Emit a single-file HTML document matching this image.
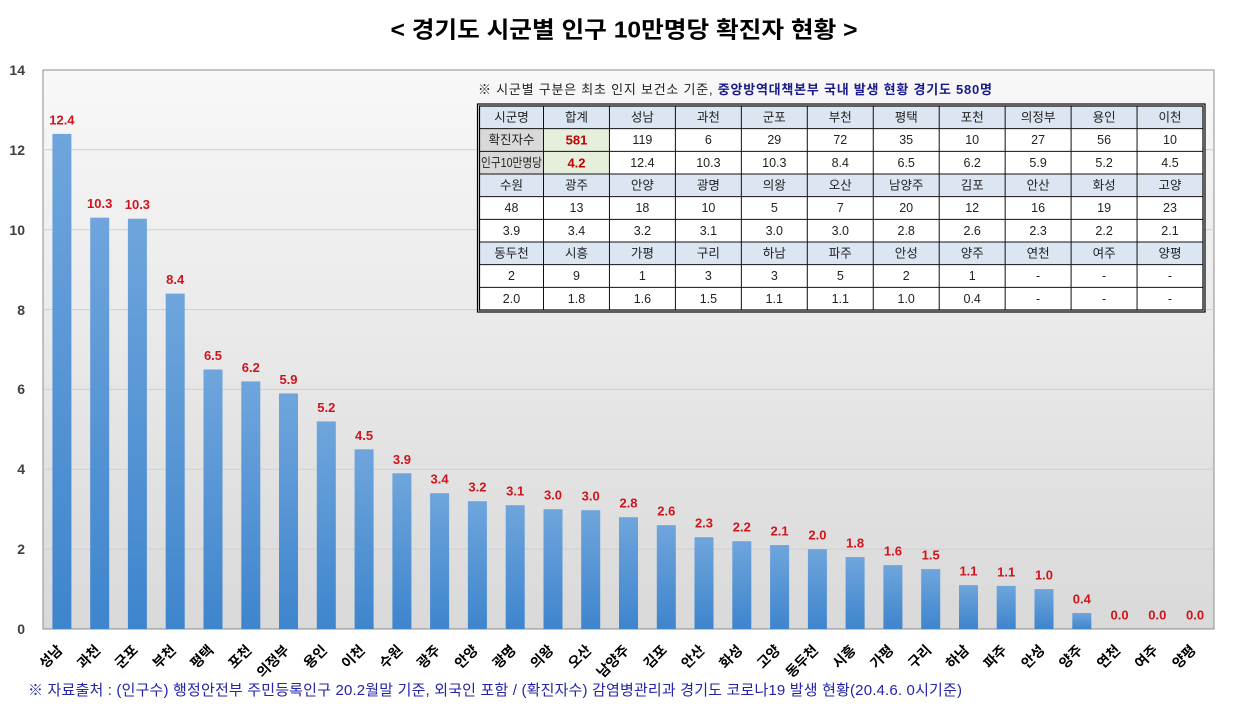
<!DOCTYPE html>
<html><head><meta charset="utf-8"><style>
html,body{margin:0;padding:0;background:#fff;}
svg{display:block;}
text{font-family:"Liberation Sans","Noto Sans CJK KR",sans-serif;}
.yl{font-size:14px;font-weight:bold;fill:#404040;text-anchor:end;}
.dl{font-size:13px;font-weight:bold;fill:#d0141c;text-anchor:middle;}
.xl{font-size:14px;font-weight:bold;fill:#000;text-anchor:end;}
.tc{font-size:12.5px;fill:#222;text-anchor:middle;}
.tr{font-size:13px;font-weight:bold;fill:#c00000;text-anchor:middle;}
</style></head><body>
<svg width="1249" height="712" viewBox="0 0 1249 712" xmlns="http://www.w3.org/2000/svg">
<defs>
<linearGradient id="bg" x1="0" y1="0" x2="0" y2="1">
<stop offset="0" stop-color="#f8f8f8"/><stop offset="1" stop-color="#d9d9d9"/>
</linearGradient>
<linearGradient id="bar" x1="0" y1="0" x2="0" y2="1">
<stop offset="0" stop-color="#6fa5dc"/><stop offset="1" stop-color="#3e85cd"/>
</linearGradient>
</defs>
<rect width="1249" height="712" fill="#fff"/>
<text x="624" y="37.5" text-anchor="middle" font-size="23" font-weight="bold" fill="#000" textLength="467" lengthAdjust="spacingAndGlyphs">&lt; 경기도 시군별 인구 10만명당 확진자 현황 &gt;</text>
<rect x="43" y="70" width="1171" height="559" fill="url(#bg)" stroke="#8c8c8c" stroke-width="1"/>
<g stroke="#cfcfcf" stroke-width="1">
<line x1="43" x2="1214" y1="549.1" y2="549.1"/>
<line x1="43" x2="1214" y1="469.3" y2="469.3"/>
<line x1="43" x2="1214" y1="389.4" y2="389.4"/>
<line x1="43" x2="1214" y1="309.6" y2="309.6"/>
<line x1="43" x2="1214" y1="229.7" y2="229.7"/>
<line x1="43" x2="1214" y1="149.8" y2="149.8"/>
</g>
<g>
<text class="yl" x="25" y="75">14</text>
<text class="yl" x="25" y="155">12</text>
<text class="yl" x="25" y="235">10</text>
<text class="yl" x="25" y="315">8</text>
<text class="yl" x="25" y="394">6</text>
<text class="yl" x="25" y="474">4</text>
<text class="yl" x="25" y="554">2</text>
<text class="yl" x="25" y="634">0</text>
</g>
<g fill="url(#bar)">
<rect x="52.4" y="133.9" width="19" height="495.1"/>
<rect x="90.2" y="217.7" width="19" height="411.3"/>
<rect x="127.9" y="218.7" width="19" height="410.3"/>
<rect x="165.7" y="293.6" width="19" height="335.4"/>
<rect x="203.5" y="369.5" width="19" height="259.5"/>
<rect x="241.3" y="381.4" width="19" height="247.6"/>
<rect x="279.0" y="393.4" width="19" height="235.6"/>
<rect x="316.8" y="421.4" width="19" height="207.6"/>
<rect x="354.6" y="449.3" width="19" height="179.7"/>
<rect x="392.4" y="473.3" width="19" height="155.7"/>
<rect x="430.1" y="493.2" width="19" height="135.8"/>
<rect x="467.9" y="501.2" width="19" height="127.8"/>
<rect x="505.7" y="505.2" width="19" height="123.8"/>
<rect x="543.5" y="509.2" width="19" height="119.8"/>
<rect x="581.2" y="510.2" width="19" height="118.8"/>
<rect x="619.0" y="517.2" width="19" height="111.8"/>
<rect x="656.8" y="525.2" width="19" height="103.8"/>
<rect x="694.5" y="537.2" width="19" height="91.8"/>
<rect x="732.3" y="541.2" width="19" height="87.8"/>
<rect x="770.1" y="545.1" width="19" height="83.9"/>
<rect x="807.9" y="549.1" width="19" height="79.9"/>
<rect x="845.6" y="557.1" width="19" height="71.9"/>
<rect x="883.4" y="565.1" width="19" height="63.9"/>
<rect x="921.2" y="569.1" width="19" height="59.9"/>
<rect x="959.0" y="585.1" width="19" height="43.9"/>
<rect x="996.7" y="585.9" width="19" height="43.1"/>
<rect x="1034.5" y="589.1" width="19" height="39.9"/>
<rect x="1072.3" y="613.0" width="19" height="16.0"/>
</g>
<g>
<text class="dl" x="61.9" y="124.4">12.4</text>
<text class="dl" x="99.7" y="208.2">10.3</text>
<text class="dl" x="137.4" y="209.2">10.3</text>
<text class="dl" x="175.2" y="284.1">8.4</text>
<text class="dl" x="213.0" y="360.0">6.5</text>
<text class="dl" x="250.8" y="371.9">6.2</text>
<text class="dl" x="288.5" y="383.9">5.9</text>
<text class="dl" x="326.3" y="411.9">5.2</text>
<text class="dl" x="364.1" y="439.8">4.5</text>
<text class="dl" x="401.9" y="463.8">3.9</text>
<text class="dl" x="439.6" y="483.7">3.4</text>
<text class="dl" x="477.4" y="491.7">3.2</text>
<text class="dl" x="515.2" y="495.7">3.1</text>
<text class="dl" x="553.0" y="499.7">3.0</text>
<text class="dl" x="590.7" y="500.7">3.0</text>
<text class="dl" x="628.5" y="507.7">2.8</text>
<text class="dl" x="666.3" y="515.7">2.6</text>
<text class="dl" x="704.0" y="527.7">2.3</text>
<text class="dl" x="741.8" y="531.7">2.2</text>
<text class="dl" x="779.6" y="535.6">2.1</text>
<text class="dl" x="817.4" y="539.6">2.0</text>
<text class="dl" x="855.1" y="547.6">1.8</text>
<text class="dl" x="892.9" y="555.6">1.6</text>
<text class="dl" x="930.7" y="559.6">1.5</text>
<text class="dl" x="968.5" y="575.6">1.1</text>
<text class="dl" x="1006.2" y="576.4">1.1</text>
<text class="dl" x="1044.0" y="579.6">1.0</text>
<text class="dl" x="1081.8" y="603.5">0.4</text>
<text class="dl" x="1119.6" y="619.5">0.0</text>
<text class="dl" x="1157.3" y="619.5">0.0</text>
<text class="dl" x="1195.1" y="619.5">0.0</text>
</g>
<g>
<text class="xl" transform="translate(63.4,651) rotate(-45)">성남</text>
<text class="xl" transform="translate(101.2,651) rotate(-45)">과천</text>
<text class="xl" transform="translate(138.9,651) rotate(-45)">군포</text>
<text class="xl" transform="translate(176.7,651) rotate(-45)">부천</text>
<text class="xl" transform="translate(214.5,651) rotate(-45)">평택</text>
<text class="xl" transform="translate(252.3,651) rotate(-45)">포천</text>
<text class="xl" transform="translate(290.0,651) rotate(-45)">의정부</text>
<text class="xl" transform="translate(327.8,651) rotate(-45)">용인</text>
<text class="xl" transform="translate(365.6,651) rotate(-45)">이천</text>
<text class="xl" transform="translate(403.4,651) rotate(-45)">수원</text>
<text class="xl" transform="translate(441.1,651) rotate(-45)">광주</text>
<text class="xl" transform="translate(478.9,651) rotate(-45)">안양</text>
<text class="xl" transform="translate(516.7,651) rotate(-45)">광명</text>
<text class="xl" transform="translate(554.5,651) rotate(-45)">의왕</text>
<text class="xl" transform="translate(592.2,651) rotate(-45)">오산</text>
<text class="xl" transform="translate(630.0,651) rotate(-45)">남양주</text>
<text class="xl" transform="translate(667.8,651) rotate(-45)">김포</text>
<text class="xl" transform="translate(705.5,651) rotate(-45)">안산</text>
<text class="xl" transform="translate(743.3,651) rotate(-45)">화성</text>
<text class="xl" transform="translate(781.1,651) rotate(-45)">고양</text>
<text class="xl" transform="translate(818.9,651) rotate(-45)">동두천</text>
<text class="xl" transform="translate(856.6,651) rotate(-45)">시흥</text>
<text class="xl" transform="translate(894.4,651) rotate(-45)">가평</text>
<text class="xl" transform="translate(932.2,651) rotate(-45)">구리</text>
<text class="xl" transform="translate(970.0,651) rotate(-45)">하남</text>
<text class="xl" transform="translate(1007.7,651) rotate(-45)">파주</text>
<text class="xl" transform="translate(1045.5,651) rotate(-45)">안성</text>
<text class="xl" transform="translate(1083.3,651) rotate(-45)">양주</text>
<text class="xl" transform="translate(1121.1,651) rotate(-45)">연천</text>
<text class="xl" transform="translate(1158.8,651) rotate(-45)">여주</text>
<text class="xl" transform="translate(1196.6,651) rotate(-45)">양평</text>
</g>
<text x="28" y="695" font-size="15" fill="#2424a8" textLength="934" lengthAdjust="spacing">※ 자료출처 : (인구수) 행정안전부 주민등록인구 20.2월말 기준, 외국인 포함 / (확진자수) 감염병관리과 경기도 코로나19 발생 현황(20.4.6. 0시기준)</text>
<text x="478" y="94" font-size="13" fill="#222" textLength="514" lengthAdjust="spacing">※ 시군별 구분은 최초 인지 보건소 기준, <tspan font-weight="bold" fill="#1a1a8c">중앙방역대책본부 국내 발생 현황 경기도 580명</tspan></text>

<!-- table -->
<rect x="479.5" y="106" width="723.5" height="204" fill="#fff"/>
<g fill="#dce6f2">
<rect x="479.5" y="106" width="723.5" height="22.67"/>
<rect x="479.5" y="174" width="723.5" height="22.67"/>
<rect x="479.5" y="242" width="723.5" height="22.67"/>
</g>
<rect x="479.5" y="128.67" width="64" height="45.33" fill="#d9d9d9"/>
<rect x="543.5" y="128.67" width="65.95" height="45.33" fill="#e6efdc"/>
<g stroke="#111" stroke-width="1">
<line x1="479.5" x2="1203" y1="128.67" y2="128.67"/>
<line x1="479.5" x2="1203" y1="151.33" y2="151.33"/>
<line x1="479.5" x2="1203" y1="174" y2="174"/>
<line x1="479.5" x2="1203" y1="196.67" y2="196.67"/>
<line x1="479.5" x2="1203" y1="219.33" y2="219.33"/>
<line x1="479.5" x2="1203" y1="242" y2="242"/>
<line x1="479.5" x2="1203" y1="264.67" y2="264.67"/>
<line x1="479.5" x2="1203" y1="287.33" y2="287.33"/>
<line x1="543.5" x2="543.5" y1="106" y2="310"/>
<line x1="609.45" x2="609.45" y1="106" y2="310"/>
<line x1="675.4" x2="675.4" y1="106" y2="310"/>
<line x1="741.35" x2="741.35" y1="106" y2="310"/>
<line x1="807.3" x2="807.3" y1="106" y2="310"/>
<line x1="873.25" x2="873.25" y1="106" y2="310"/>
<line x1="939.2" x2="939.2" y1="106" y2="310"/>
<line x1="1005.15" x2="1005.15" y1="106" y2="310"/>
<line x1="1071.1" x2="1071.1" y1="106" y2="310"/>
<line x1="1137.05" x2="1137.05" y1="106" y2="310"/>
</g>
<rect x="477.5" y="104" width="727.5" height="208" fill="none" stroke="#000" stroke-width="1.2"/>
<rect x="479.5" y="106" width="723.5" height="204" fill="none" stroke="#000" stroke-width="1.2"/>

<g class="tc">
<text class="tc" x="511.5" y="121.5">시군명</text>
<text class="tc" x="576.5" y="121.5">합계</text>
<text class="tc" x="642.4" y="121.5">성남</text>
<text class="tc" x="708.4" y="121.5">과천</text>
<text class="tc" x="774.3" y="121.5">군포</text>
<text class="tc" x="840.3" y="121.5">부천</text>
<text class="tc" x="906.2" y="121.5">평택</text>
<text class="tc" x="972.2" y="121.5">포천</text>
<text class="tc" x="1038.1" y="121.5">의정부</text>
<text class="tc" x="1104.1" y="121.5">용인</text>
<text class="tc" x="1170.0" y="121.5">이천</text>
<text class="tc" x="511.5" y="144.2" font-size="12">확진자수</text>
<text class="tr" x="576.5" y="144.7">581</text>
<text class="tc" x="642.4" y="144.2">119</text>
<text class="tc" x="708.4" y="144.2">6</text>
<text class="tc" x="774.3" y="144.2">29</text>
<text class="tc" x="840.3" y="144.2">72</text>
<text class="tc" x="906.2" y="144.2">35</text>
<text class="tc" x="972.2" y="144.2">10</text>
<text class="tc" x="1038.1" y="144.2">27</text>
<text class="tc" x="1104.1" y="144.2">56</text>
<text class="tc" x="1170.0" y="144.2">10</text>
<text class="tc" x="511.5" y="166.8" font-size="11.5" textLength="61" lengthAdjust="spacingAndGlyphs">인구10만명당</text>
<text class="tr" x="576.5" y="167.3">4.2</text>
<text class="tc" x="642.4" y="166.8">12.4</text>
<text class="tc" x="708.4" y="166.8">10.3</text>
<text class="tc" x="774.3" y="166.8">10.3</text>
<text class="tc" x="840.3" y="166.8">8.4</text>
<text class="tc" x="906.2" y="166.8">6.5</text>
<text class="tc" x="972.2" y="166.8">6.2</text>
<text class="tc" x="1038.1" y="166.8">5.9</text>
<text class="tc" x="1104.1" y="166.8">5.2</text>
<text class="tc" x="1170.0" y="166.8">4.5</text>
<text class="tc" x="511.5" y="189.5">수원</text>
<text class="tc" x="576.5" y="189.5">광주</text>
<text class="tc" x="642.4" y="189.5">안양</text>
<text class="tc" x="708.4" y="189.5">광명</text>
<text class="tc" x="774.3" y="189.5">의왕</text>
<text class="tc" x="840.3" y="189.5">오산</text>
<text class="tc" x="906.2" y="189.5">남양주</text>
<text class="tc" x="972.2" y="189.5">김포</text>
<text class="tc" x="1038.1" y="189.5">안산</text>
<text class="tc" x="1104.1" y="189.5">화성</text>
<text class="tc" x="1170.0" y="189.5">고양</text>
<text class="tc" x="511.5" y="212.2">48</text>
<text class="tc" x="576.5" y="212.2">13</text>
<text class="tc" x="642.4" y="212.2">18</text>
<text class="tc" x="708.4" y="212.2">10</text>
<text class="tc" x="774.3" y="212.2">5</text>
<text class="tc" x="840.3" y="212.2">7</text>
<text class="tc" x="906.2" y="212.2">20</text>
<text class="tc" x="972.2" y="212.2">12</text>
<text class="tc" x="1038.1" y="212.2">16</text>
<text class="tc" x="1104.1" y="212.2">19</text>
<text class="tc" x="1170.0" y="212.2">23</text>
<text class="tc" x="511.5" y="234.8">3.9</text>
<text class="tc" x="576.5" y="234.8">3.4</text>
<text class="tc" x="642.4" y="234.8">3.2</text>
<text class="tc" x="708.4" y="234.8">3.1</text>
<text class="tc" x="774.3" y="234.8">3.0</text>
<text class="tc" x="840.3" y="234.8">3.0</text>
<text class="tc" x="906.2" y="234.8">2.8</text>
<text class="tc" x="972.2" y="234.8">2.6</text>
<text class="tc" x="1038.1" y="234.8">2.3</text>
<text class="tc" x="1104.1" y="234.8">2.2</text>
<text class="tc" x="1170.0" y="234.8">2.1</text>
<text class="tc" x="511.5" y="257.5">동두천</text>
<text class="tc" x="576.5" y="257.5">시흥</text>
<text class="tc" x="642.4" y="257.5">가평</text>
<text class="tc" x="708.4" y="257.5">구리</text>
<text class="tc" x="774.3" y="257.5">하남</text>
<text class="tc" x="840.3" y="257.5">파주</text>
<text class="tc" x="906.2" y="257.5">안성</text>
<text class="tc" x="972.2" y="257.5">양주</text>
<text class="tc" x="1038.1" y="257.5">연천</text>
<text class="tc" x="1104.1" y="257.5">여주</text>
<text class="tc" x="1170.0" y="257.5">양평</text>
<text class="tc" x="511.5" y="280.2">2</text>
<text class="tc" x="576.5" y="280.2">9</text>
<text class="tc" x="642.4" y="280.2">1</text>
<text class="tc" x="708.4" y="280.2">3</text>
<text class="tc" x="774.3" y="280.2">3</text>
<text class="tc" x="840.3" y="280.2">5</text>
<text class="tc" x="906.2" y="280.2">2</text>
<text class="tc" x="972.2" y="280.2">1</text>
<text class="tc" x="1038.1" y="280.2">-</text>
<text class="tc" x="1104.1" y="280.2">-</text>
<text class="tc" x="1170.0" y="280.2">-</text>
<text class="tc" x="511.5" y="302.8">2.0</text>
<text class="tc" x="576.5" y="302.8">1.8</text>
<text class="tc" x="642.4" y="302.8">1.6</text>
<text class="tc" x="708.4" y="302.8">1.5</text>
<text class="tc" x="774.3" y="302.8">1.1</text>
<text class="tc" x="840.3" y="302.8">1.1</text>
<text class="tc" x="906.2" y="302.8">1.0</text>
<text class="tc" x="972.2" y="302.8">0.4</text>
<text class="tc" x="1038.1" y="302.8">-</text>
<text class="tc" x="1104.1" y="302.8">-</text>
<text class="tc" x="1170.0" y="302.8">-</text>
</g>
</svg>
</body></html>
